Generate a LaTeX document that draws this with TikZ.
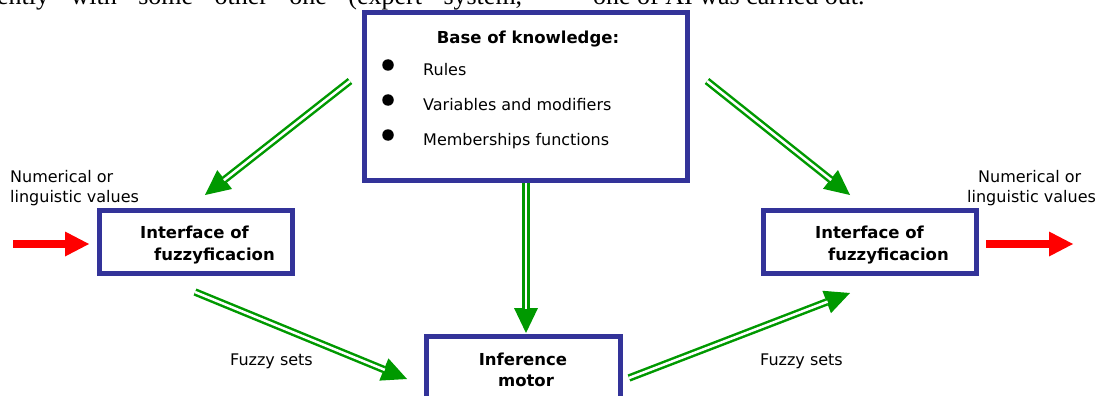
\documentclass[tikz,border=0pt]{standalone}
\usepackage{fontspec}
\setmainfont{DejaVu Sans}
\newfontfamily\pageserif{Liberation Serif}
\usetikzlibrary{arrows.meta}
\definecolor{boxblue}{RGB}{51,51,153}
\definecolor{arrgreen}{RGB}{0,153,0}
\tikzset{
  blk/.style={draw=boxblue, line width=5pt, fill=white, inner sep=0pt},
  lbl/.style={font=\fontsize{16}{19}\selectfont, inner sep=0pt, anchor=base west},
  blbl/.style={font=\fontsize{16.5}{19}\selectfont\bfseries, inner sep=0pt, anchor=base west},
  bulletdot/.style={circle, fill=black, inner sep=0pt, minimum size=11.5pt},
  garrow/.style={draw=arrgreen, line width=7.5pt,
    -{Triangle[length=25pt,width=24pt,line width=0pt]},
    postaction={draw=white, line width=2.5pt, shorten >=24pt, arrows=-}},
  rarrow/.style={draw=red, line width=8pt,
    -{Triangle[length=24pt,width=25pt,line width=0pt]}},
  pagetext/.style={font=\pageserif\fontsize{26}{30}\selectfont, inner sep=0pt, anchor=base west},
}
\begin{document}
\begin{tikzpicture}[x=1pt,y=-1pt]
\useasboundingbox (0,0) rectangle (1101,396);
% cut-off text of the page above
\node[pagetext] (pg1) at (-3,5) {\makebox[525pt][s]{ently with some other one (expert system,}};
\node[pagetext] (pg2) at (593,5) {one of AI was carried out.};

% boxes
\node[blk, minimum width=323pt, minimum height=168pt] (kb) at (526,96.5) {};
\node[blk, minimum width=193pt, minimum height=63pt] (fin) at (196,242) {};
\node[blk, minimum width=213pt, minimum height=63pt] (fout) at (870,242) {};
\node[blk, minimum width=193.5pt, minimum height=61.5pt] (inf) at (523.25,367.25) {};

% knowledge base text
\node[blbl, anchor=base] (kbt) at (528,44) {Base of knowledge:};
\node[bulletdot] (d1) at (388,65) {};
\node[bulletdot] (d2) at (388,100) {};
\node[bulletdot] (d3) at (388,135) {};
\node[lbl] (r1) at (423,76) {Rules};
\node[lbl] (r2) at (423,110.5) {Variables and modifiers};
\node[lbl] (r3) at (423,145) {Memberships functions};

% interface texts
\node[blbl] (fi1) at (140,238) {Interface of};
\node[blbl] (fi2) at (154,260) {fuzzyficacion};
\node[blbl] (fo1) at (815,238) {Interface of};
\node[blbl] (fo2) at (828,260) {fuzzyficacion};
\node[blbl, anchor=base] (in1) at (523,365) {Inference};
\node[blbl, anchor=base] (in2) at (526,386) {motor};

% side labels
\node[lbl] (nl1) at (10,182) {Numerical or};
\node[lbl] (nl2) at (10,202) {linguistic values};
\node[lbl] (nr1) at (978,182) {Numerical or};
\node[lbl] (nr2) at (967,202) {linguistic values};
\node[lbl] (fs1) at (230,365) {Fuzzy sets};
\node[lbl] (fs2) at (760,365) {Fuzzy sets};

% connector end points
\coordinate (a1s) at (350,81);
\coordinate (a1e) at (205,195);
\coordinate (a2s) at (707,81);
\coordinate (a2e) at (850,195);
\coordinate (a3e) at (526,333);
\coordinate (a4s) at (195,292);
\coordinate (a4e) at (407,379);
\coordinate (a5s) at (629,378);
\coordinate (a5e) at (850,293);
\coordinate (rls) at (13,244);
\coordinate (rle) at (89,244);
\coordinate (rrs) at (986,244);
\coordinate (rre) at (1073,244);

% green arrows
\draw[garrow] (a1s) -- (a1e);
\draw[garrow] (a2s) -- (a2e);
\draw[garrow] (kb.south -| a3e) -- (a3e);
\draw[garrow] (a4s) -- (a4e);
\draw[garrow] (a5s) -- (a5e);

% red arrows
\draw[rarrow] (rls) -- (rle);
\draw[rarrow] (rrs) -- (rre);
\end{tikzpicture}
\end{document}
